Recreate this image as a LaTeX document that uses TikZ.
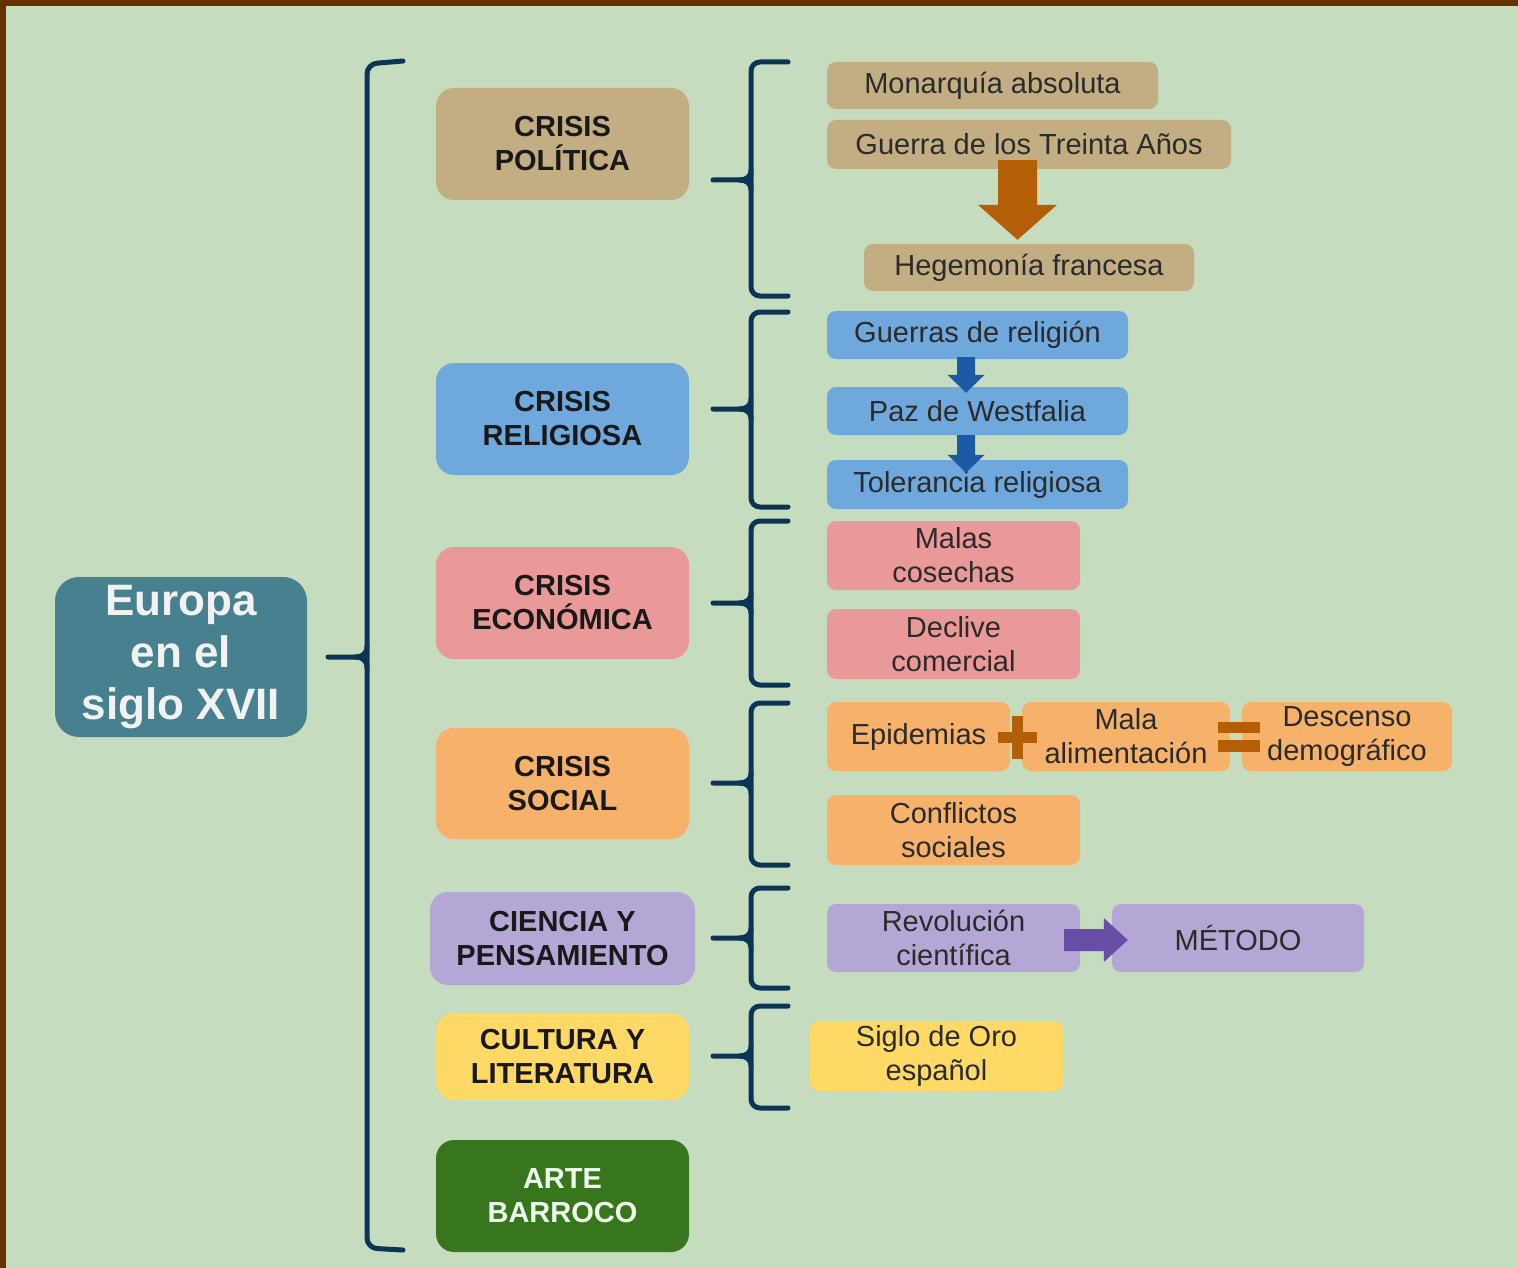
\documentclass[tikz,border=0pt]{standalone}
\usepackage{fontspec}
\setmainfont{Liberation Sans}
\usetikzlibrary{calc}
\definecolor{bg}{HTML}{C5DCBF}
\definecolor{brd}{HTML}{663300}
\definecolor{cnavy}{HTML}{0C3555}
\definecolor{ctan}{HTML}{C3AD83}
\definecolor{cblue}{HTML}{6FA8DC}
\definecolor{cpink}{HTML}{EA9999}
\definecolor{corange}{HTML}{F6B26B}
\definecolor{cpurple}{HTML}{B4A7D6}
\definecolor{cyellow}{HTML}{FFD966}
\definecolor{cgreen}{HTML}{38761D}
\definecolor{cteal}{HTML}{47818F}
\definecolor{aorange}{HTML}{B45F06}
\definecolor{ablue}{HTML}{1C5AA6}
\definecolor{apurple}{HTML}{674EA7}
\definecolor{tdark}{HTML}{2B2B2B}
\begin{document}
\begin{tikzpicture}[x=1pt,y=-1pt,
  cat/.style={rounded corners=18pt, inner sep=0pt, align=center,
    font=\fontsize{29}{34}\selectfont\bfseries, text=black!90,
    minimum width=253pt, minimum height=112pt},
  sub/.style={rounded corners=9pt, inner sep=0pt, align=center,
    font=\fontsize{29}{34}\selectfont, text=tdark},
  brk/.style={draw=cnavy, line width=5pt, line cap=round},
  ]
\useasboundingbox (0,0) rectangle (1518,1268);
\fill[bg] (0,0) rectangle (1518,1268);
\fill[brd] (0,0) rectangle (1518,6);
\fill[brd] (0,0) rectangle (6,1268);

% main node
\node[cat, fill=cteal, rounded corners=24pt, minimum width=252pt, minimum height=160pt,
  font=\fontsize{44}{52}\selectfont\bfseries, text=white!95!black] (eur) at (181,657) {Europa\\en el\\siglo XVII};

% categories
\node[cat, fill=ctan] (pol) at (562.5,144) {CRISIS\\POLÍTICA};
\node[cat, fill=cblue] (rel) at (562.5,419) {CRISIS\\RELIGIOSA};
\node[cat, fill=cpink] (eco) at (562.5,603) {CRISIS\\ECONÓMICA};
\node[cat, fill=corange, minimum height=111pt] (soc) at (562.5,783.5) {CRISIS\\SOCIAL};
\node[cat, fill=cpurple, minimum width=265pt, minimum height=93pt] (cie) at (562.5,938.5) {CIENCIA Y\\PENSAMIENTO};
\node[cat, fill=cyellow, minimum height=87pt] (cul) at (562.5,1056.5) {CULTURA Y\\LITERATURA};
\node[cat, fill=cgreen, text=white!93!green] (arte) at (562.5,1196) {ARTE\\BARROCO};

% big bracket
\draw[brk, rounded corners=10pt] (403,61) -- (367,64) -- (367,1248) -- (403,1250);
\draw[brk] (328,657) -- (355,657) .. controls (362,657) and (367,654) .. (367,646);
\draw[brk] (355,657) .. controls (362,657) and (367,660) .. (367,668);

% sub brackets
\foreach \t/\b/\m in {62/296/180, 312/507/409, 521/685/603, 703/865/783, 888/988/938, 1006/1108/1056} {
  \draw[brk, rounded corners=9pt] (788,\t) -- (751,\t) -- (751,\b) -- (788,\b);
  \draw[brk] (713,\m) -- (739,\m) .. controls (746,\m) and (751,\m-3) .. (751,\m-10);
  \draw[brk] (739,\m) .. controls (746,\m) and (751,\m+3) .. (751,\m+10);
}

% political
\node[sub, fill=ctan, minimum width=331pt, minimum height=47pt] (mon) at (992.5,85.5) {Monarquía absoluta};
\node[sub, fill=ctan, minimum width=404pt, minimum height=49pt] (gue) at (1029,144.5) {Guerra de los Treinta Años};
\node[sub, fill=ctan, minimum width=330pt, minimum height=47pt] (heg) at (1029,267.5) {Hegemonía francesa};
\coordinate (o1) at ([xshift=-11.5pt,yshift=9pt]gue.south);
\coordinate (o2) at ([xshift=-11.5pt,yshift=4pt]heg.north);
\fill[aorange] ($(o1)+(-19.5,0)$) -- ($(o1)+(19.5,0)$) -- ($(o2)+(19.5,-35)$) -- ($(o2)+(39.5,-35)$)
  -- (o2) -- ($(o2)+(-39.5,-35)$) -- ($(o2)+(-19.5,-35)$) -- cycle;

% religious
\node[sub, fill=cblue, minimum width=301pt, minimum height=48pt] (gr) at (977.5,335) {Guerras de religión};
\node[sub, fill=cblue, minimum width=301pt, minimum height=48pt] (paz) at (977.5,411) {Paz de Westfalia};
\node[sub, fill=cblue, minimum width=301pt, minimum height=49pt] (tol) at (977.5,484.5) {Tolerancia religiosa};
\coordinate (b1) at ([xshift=-11.5pt,yshift=2pt]gr.south);
\coordinate (b2) at ([xshift=-11.5pt,yshift=-6pt]paz.north);
\fill[ablue] ($(b1)+(-9,0)$) -- ($(b1)+(9,0)$) -- ($(b2)+(9,-18)$) -- ($(b2)+(18.5,-18)$)
  -- (b2) -- ($(b2)+(-18.5,-18)$) -- ($(b2)+(-9,-18)$) -- cycle;
\coordinate (b3) at ([xshift=-11.5pt,yshift=0pt]paz.south);
\coordinate (b4) at ([xshift=-11.5pt,yshift=-13pt]tol.north);
\fill[ablue] ($(b3)+(-9,0)$) -- ($(b3)+(9,0)$) -- ($(b4)+(9,-18)$) -- ($(b4)+(18.5,-18)$)
  -- (b4) -- ($(b4)+(-18.5,-18)$) -- ($(b4)+(-9,-18)$) -- cycle;

% economic
\node[sub, fill=cpink, minimum width=253pt, minimum height=69pt] (mal) at (953.5,555.5) {Malas\\cosechas};
\node[sub, fill=cpink, minimum width=253pt, minimum height=70pt] (dec) at (953.5,644) {Declive\\comercial};

% social
\node[sub, fill=corange, minimum width=183pt, minimum height=69pt] (epi) at (918.5,736.5) {Epidemias};
\node[sub, fill=corange, minimum width=208pt, minimum height=69pt] (ali) at (1126,736.5) {Mala\\alimentación};
\node[sub, fill=corange, minimum width=210pt, minimum height=69pt] (des) at (1347,736.5) {Descenso\\demográfico};
\node[sub, fill=corange, minimum width=253pt, minimum height=70pt] (con) at (953.5,830) {Conflictos\\sociales};
\coordinate (pl) at ($(epi.east)!0.5!(ali.west)+(1.5,1)$);
\fill[aorange] ($(pl)+(-19.5,-5.5)$) rectangle ($(pl)+(19.5,5.5)$);
\fill[aorange] ($(pl)+(-5.5,-21.5)$) rectangle ($(pl)+(5.5,21.5)$);
\coordinate (eq) at ($(ali.east)!0.5!(des.west)+(3,0)$);
\fill[aorange] ($(eq)+(-21,-14.5)$) rectangle ($(eq)+(21,-3.5)$);
\fill[aorange] ($(eq)+(-21,3.5)$) rectangle ($(eq)+(21,15)$);

% science
\node[sub, fill=cpurple, minimum width=253pt, minimum height=68pt] (rev) at (953.5,938) {Revolución\\científica};
\node[sub, fill=cpurple, minimum width=252pt, minimum height=68pt] (met) at (1238,938) {MÉTODO};
\coordinate (p1) at ([xshift=-16pt,yshift=-2pt]rev.east);
\coordinate (p2) at ([xshift=16pt,yshift=-2pt]met.west);
\fill[apurple] ($(p1)+(0,-11)$) -- ($(p2)+(-24,-11)$) -- ($(p2)+(-24,-22)$) -- (p2)
  -- ($(p2)+(-24,22)$) -- ($(p2)+(-24,11)$) -- ($(p1)+(0,11)$) -- cycle;

% culture
\node[sub, fill=cyellow, minimum width=253pt, minimum height=70pt] (sig) at (936.5,1056) {Siglo de Oro\\español};
\end{tikzpicture}
\end{document}
